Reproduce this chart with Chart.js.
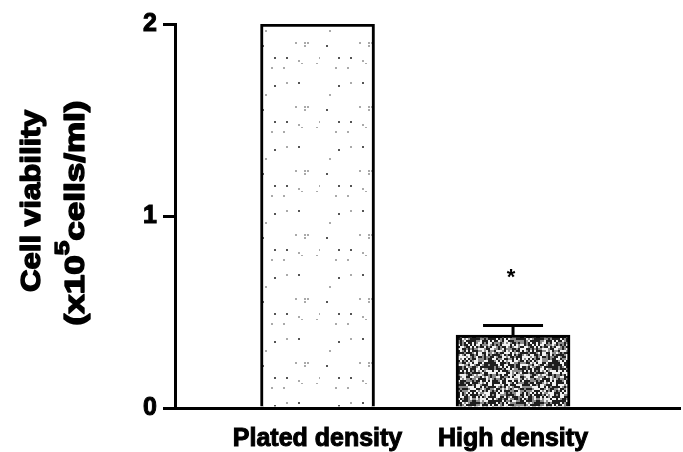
<!DOCTYPE html>
<html><head><meta charset="utf-8">
<script src="https://cdn.jsdelivr.net/npm/chart.js@4"></script>
<style>html,body{margin:0;padding:0;background:#fff}#wrap{width:683px;height:452px;position:relative}</style>
</head><body><div id="wrap"><canvas id="c"></canvas></div>
<script>
// ---- data ----
const categories = ['Plated density', 'High density'];
const viability = [2.0, 0.38];
const errorTop = [null, 0.43];
const significance = ['', '*'];
const significanceAt = [null, 0.70];
const yTicks = [0, 1, 2];
const yTitleLine1 = 'Cell viability';
const yTitleLine2 = ['(x10', '5', 'cells/ml)'];

const FONT = '"Liberation Sans", Arial, Helvetica, sans-serif';
Chart.defaults.font.family = FONT;
Chart.defaults.color = '#000';

function hash(i, seed) { const x = Math.sin(i * 12.9898 + seed * 78.233) * 43758.5453; return x - Math.floor(x); }
function makePattern(kind) {
  const s = 64, cv = document.createElement('canvas'); cv.width = s; cv.height = s;
  const g = cv.getContext('2d');
  if (kind === 'light') {
    g.fillStyle = '#fff'; g.fillRect(0, 0, s, s);
    for (let y = 0; y < s; y += 3) for (let x = 0; x < s; x += 3) {
      const r = hash(x * 131 + y, 1);
      if (r < 0.05) { g.fillStyle = r < 0.02 ? '#555' : '#aaa'; g.fillRect(x, y, 2, 2); }
    }
  } else {
    g.fillStyle = '#8c8c8c'; g.fillRect(0, 0, s, s);
    for (let y = 0; y < s; y += 2) for (let x = 0; x < s; x += 2) {
      const r = hash(x * 257 + y, 7);
      g.fillStyle = r < 0.42 ? '#1e1e1e' : (r < 0.72 ? '#f2f2f2' : '#8c8c8c');
      g.fillRect(x, y, 2, 2);
    }
  }
  return g.createPattern(cv, 'repeat');
}
const ctx0 = document.getElementById('c').getContext('2d');
const fills = [makePattern('light'), makePattern('dark')];

function heavyText(ctx, t, x, y) { ctx.fillText(t, x, y); ctx.strokeText(t, x, y); }

const extras = {
  id: 'extras',
  afterDatasetsDraw(chart) {
    const ctx = chart.ctx, xs = chart.scales.x, ys = chart.scales.y;
    ctx.save();
    ctx.strokeStyle = '#000'; ctx.lineWidth = 3; ctx.lineCap = 'butt';
    errorTop.forEach((e, i) => {
      if (e == null) return;
      const cx = xs.getPixelForValue(i), y0 = ys.getPixelForValue(viability[i]), y1 = ys.getPixelForValue(e);
      ctx.beginPath(); ctx.moveTo(cx, y0); ctx.lineTo(cx, y1); ctx.stroke();
      ctx.beginPath(); ctx.moveTo(cx - 30, y1); ctx.lineTo(cx + 30, y1); ctx.stroke();
    });
    ctx.fillStyle = '#000'; ctx.font = 'bold 22px ' + FONT; ctx.textAlign = 'center'; ctx.textBaseline = 'alphabetic';
    significance.forEach((t, i) => {
      if (!t) return;
      const m = ctx.measureText(t);
      const cx = xs.getPixelForValue(i) - 2, cy = ys.getPixelForValue(significanceAt[i]);
      const off = (m.actualBoundingBoxAscent - m.actualBoundingBoxDescent) / 2;
      ctx.fillText(t, cx, cy + off);
    });
    ctx.restore();
  },
  afterDraw(chart) {
    const ctx = chart.ctx;
    ctx.save(); ctx.fillStyle = '#000'; ctx.strokeStyle = '#000'; ctx.lineWidth = 1.4; ctx.lineJoin = 'round';
    ctx.textBaseline = 'alphabetic'; ctx.textAlign = 'left';
    ctx.save();
    ctx.translate(40, 201); ctx.rotate(-Math.PI / 2);
    ctx.font = 'bold 27px ' + FONT;
    let w = ctx.measureText(yTitleLine1).width;
    ctx.scale(182 / w, 1);
    heavyText(ctx, yTitleLine1, -w / 2, 0);
    ctx.restore();
    ctx.save();
    ctx.translate(84, 213); ctx.rotate(-Math.PI / 2);
    const mainF = 'bold 27px ' + FONT, supF = 'bold 20px ' + FONT;
    ctx.font = mainF; const wa = ctx.measureText(yTitleLine2[0]).width, wc = ctx.measureText(yTitleLine2[2]).width;
    ctx.font = supF; const wb = ctx.measureText(yTitleLine2[1]).width;
    const tot = wa + wb + wc; ctx.scale(225 / tot, 1);
    let x = -tot / 2;
    ctx.font = mainF; heavyText(ctx, yTitleLine2[0], x, 0); x += wa;
    ctx.font = supF; heavyText(ctx, yTitleLine2[1], x, -15); x += wb;
    ctx.font = mainF; heavyText(ctx, yTitleLine2[2], x, 0);
    ctx.restore();
    ctx.restore();
  }
};

new Chart(ctx0, {
  type: 'bar',
  data: {
    datasets: [{
      data: viability.map((v, i) => ({ x: i, y: v })),
      backgroundColor: fills,
      borderColor: '#000',
      borderWidth: 3,
      borderSkipped: 'bottom',
      barThickness: 114
    }]
  },
  options: {
    responsive: true, maintainAspectRatio: false, animation: false,
    layout: { padding: { top: 24, right: 3, bottom: 0, left: 0 } },
    plugins: { legend: { display: false }, tooltip: { enabled: false } },
    scales: {
      x: {
        type: 'linear', min: -0.729, max: 1.854, offset: false,
        afterBuildTicks: s => { s.ticks = categories.map((c, i) => ({ value: i })); },
        afterFit: s => { s.height = 44; },
        grid: { display: false, offset: false },
        border: { display: true, color: '#000', width: 3 },
        ticks: { callback: v => categories[v], font: { size: 25, weight: 'bold' }, color: '#000', padding: 8, maxRotation: 0, autoSkip: false, textStrokeColor: '#000', textStrokeWidth: 1 }
      },
      y: {
        min: 0, max: 2,
        afterBuildTicks: s => { s.ticks = yTicks.map(v => ({ value: v })); },
        afterFit: s => { s.width = 175; },
        grid: { drawOnChartArea: false, drawTicks: true, tickLength: 12, color: '#000', lineWidth: 3 },
        border: { display: true, color: '#000', width: 3 },
        ticks: { font: { size: 25, weight: 'bold' }, color: '#000', padding: 6, textStrokeColor: '#000', textStrokeWidth: 1 }
      }
    }
  },
  plugins: [extras]
});
</script></body></html>
